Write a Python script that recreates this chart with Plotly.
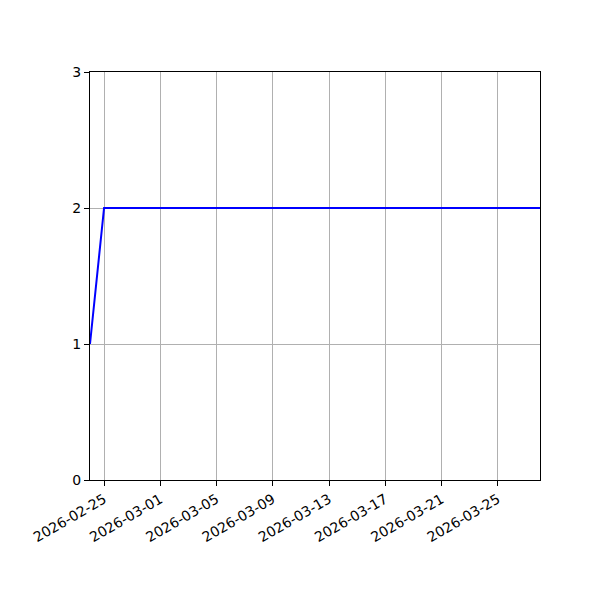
import pandas as pd
import plotly.graph_objects as go

dates = pd.date_range("2026-02-24", "2026-03-28", freq="D")
values = [1] + [2] * (len(dates) - 1)
tick_dates = pd.date_range("2026-02-25", "2026-03-25", freq="4D")
tick_labels = [d.strftime("%Y-%m-%d") for d in tick_dates]

fig = go.Figure()
fig.add_trace(go.Scatter(x=dates, y=values, mode="lines",
                         line=dict(color="#0000ff", width=2), showlegend=False))

axis_common = dict(showline=True, linecolor="black", linewidth=1, mirror=True,
                   ticks="outside", ticklen=5, tickwidth=1, tickcolor="black",
                   showgrid=True, gridcolor="#b0b0b0", gridwidth=1, zeroline=False,
                   tickfont=dict(family="DejaVu Sans", size=14, color="black"))

fig.update_xaxes(range=[dates[0], dates[-1]], tickvals=tick_dates, ticktext=tick_labels,
                 tickangle=-30, **axis_common)
fig.update_yaxes(range=[0, 3], tickvals=[0, 1, 2, 3], **axis_common)

fig.update_layout(width=600, height=600, margin=dict(l=82, r=68, t=64, b=128),
                  plot_bgcolor="white", paper_bgcolor="white")
fig.write_html("out.html")
